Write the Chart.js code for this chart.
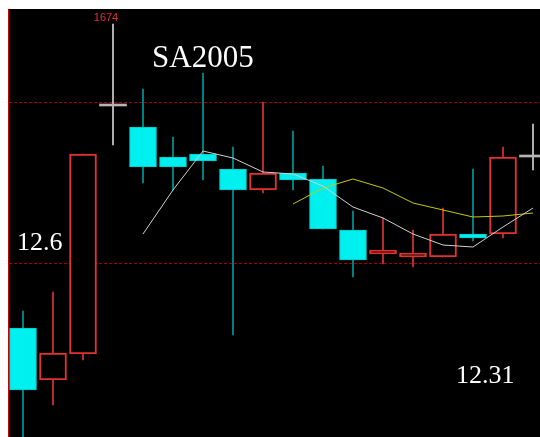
<!DOCTYPE html>
<html>
<head>
<meta charset="utf-8">
<script src="https://cdn.jsdelivr.net/npm/chart.js@4.4.0/dist/chart.umd.min.js"></script>
<style>
  html, body { margin: 0; padding: 0; background: #fff; }
  #wrap {
    position: absolute; left: 8px; top: 9px;
    width: 531px; height: 428px;
    background: #000; border-left: 1px solid #c80000;
  }
  canvas { display: block; }
</style>
</head>
<body>
<div id="wrap"><canvas id="chart" width="531" height="428"></canvas></div>
<script>
'use strict';

// candles (price units)
var opens  = [1522, 1496, 1509, 1633, 1622.5, 1607.5, 1609, 1601.5, 1591, 1599.5, 1596.5, 1571, 1559, 1557.5, 1557.5, 1569, 1569, 1607.5];
var highs  = [1530.5, 1540, 1609, 1674, 1641.5, 1617.5, 1649.5, 1612.5, 1635, 1620.5, 1603, 1580.5, 1577, 1571, 1582, 1601.5, 1612.5, 1624];
var lows   = [1460, 1483.5, 1506, 1613.5, 1594.5, 1591, 1596, 1518.5, 1589.5, 1591, 1571.5, 1547.5, 1554, 1552.5, 1557.5, 1565.5, 1567, 1601];
var closes = [1491, 1509.5, 1609, 1633, 1602.5, 1602.5, 1605.5, 1591, 1599.5, 1596, 1571.5, 1556, 1561, 1559.5, 1569, 1567, 1607.5, 1607.5];

// moving average lines as drawn (null where not drawn)
var ma5  = [null, null, null, null, 1569, 1591, 1610.5, 1607, 1600, 1599, 1593, 1582.5, 1577, 1569, 1563.5, 1562.5, 1572.5, 1582];
var ma10 = [null, null, null, null, null, null, null, null, null, 1584, 1592, 1596.5, 1592, 1584.5, 1581, 1577.5, 1578, 1579.5];

var refLevels = [1635, 1554.5];
var chartTitle = 'SA2005';
var leftNote = '12.6';
var rightNote = '12.31';

var ctx = document.getElementById('chart').getContext('2d');

var CYAN = '#00f0f0';
var CYAN_WICK = '#009a9a';
var RED = '#e03232';
var DOJI = '#b4b4b4';

function kind(i) {
  if (opens[i] === closes[i]) return 'doji';
  return closes[i] > opens[i] ? 'up' : 'down';
}

var bodyData = [], upperWick = [], lowerWick = [], ma5Data = [], ma10Data = [];
for (var i = 0; i < opens.length; i++) {
  var bodyTop = Math.max(opens[i], closes[i]);
  var bodyBot = Math.min(opens[i], closes[i]);
  bodyData.push({ x: i, y: [opens[i], closes[i]] });
  upperWick.push({ x: i, y: [bodyTop, highs[i]] });
  lowerWick.push({ x: i, y: [lows[i], bodyBot] });
  if (ma5[i] !== null) ma5Data.push({ x: i, y: ma5[i] });
  if (ma10[i] !== null) ma10Data.push({ x: i, y: ma10[i] });
}

function wickColor(c) {
  var k = kind(c.dataIndex);
  if (k === 'down') return CYAN_WICK;
  if (k === 'up') return RED;
  return '#d0d0d0';
}

// dashed reference lines and text labels
var overlay = {
  id: 'overlay',
  beforeDatasetsDraw: function (chart) {
    var y = chart.scales.y, a = chart.chartArea, c = chart.ctx;
    c.save();
    c.strokeStyle = '#a80000';
    c.lineWidth = 1;
    c.setLineDash([3, 2]);
    refLevels.forEach(function (lv) {
      var py = Math.round(y.getPixelForValue(lv)) + 0.5;
      c.beginPath();
      c.moveTo(a.left, py);
      c.lineTo(a.right, py);
      c.stroke();
    });
    c.restore();
  },
  afterDatasetsDraw: function (chart) {
    var x = chart.scales.x, y = chart.scales.y, c = chart.ctx;
    c.save();
    c.fillStyle = '#ffffff';
    c.textBaseline = 'alphabetic';
    c.font = '31px "Liberation Serif", serif';
    c.fillText(chartTitle, 143, 58);
    c.font = '26px "Liberation Serif", serif';
    c.fillText(leftNote, 8, 241);
    c.fillText(rightNote, 447, 374);

    // highest high label
    var hi = 0;
    for (var i = 1; i < highs.length; i++) if (highs[i] > highs[hi]) hi = i;
    c.font = '11px "Liberation Sans", sans-serif';
    c.fillStyle = RED;
    c.textAlign = 'center';
    c.fillText(String(Math.round(highs[hi])), x.getPixelForValue(hi) - 7, y.getPixelForValue(highs[hi]) - 3);
    c.restore();
  }
};

var chart = new Chart(ctx, {
  type: 'bar',
  data: {
    datasets: [
      {
        type: 'line',
        data: ma5Data,
        borderColor: '#d0d0d0',
        borderWidth: 1,
        pointRadius: 0,
        tension: 0,
        order: 0
      },
      {
        type: 'line',
        data: ma10Data,
        borderColor: '#c8c800',
        borderWidth: 1,
        pointRadius: 0,
        tension: 0,
        order: 0
      },
      {
        data: bodyData,
        grouped: false,
        barThickness: 27,
        minBarLength: 2,
        borderSkipped: false,
        backgroundColor: function (c) {
          var k = kind(c.dataIndex);
          return k === 'down' ? CYAN : (k === 'up' ? '#000' : DOJI);
        },
        borderColor: function (c) {
          var k = kind(c.dataIndex);
          return k === 'down' ? '#00c8c8' : (k === 'up' ? RED : DOJI);
        },
        borderWidth: function (c) {
          var k = kind(c.dataIndex);
          return k === 'doji' ? 0 : (k === 'up' ? 2 : 1);
        },
        order: 1
      },
      {
        data: upperWick,
        grouped: false,
        barThickness: 1,
        backgroundColor: wickColor,
        borderWidth: 0,
        order: 2
      },
      {
        data: lowerWick,
        grouped: false,
        barThickness: 1,
        backgroundColor: wickColor,
        borderWidth: 0,
        order: 2
      }
    ]
  },
  options: {
    responsive: false,
    animation: false,
    layout: { padding: 0 },
    plugins: {
      legend: { display: false },
      tooltip: { enabled: false }
    },
    scales: {
      x: { type: 'linear', min: -0.4667, max: 17.2333, offset: false, display: false },
      y: { min: 1467.5, max: 1681.5, display: false }
    }
  },
  plugins: [overlay]
});
</script>
</body>
</html>
